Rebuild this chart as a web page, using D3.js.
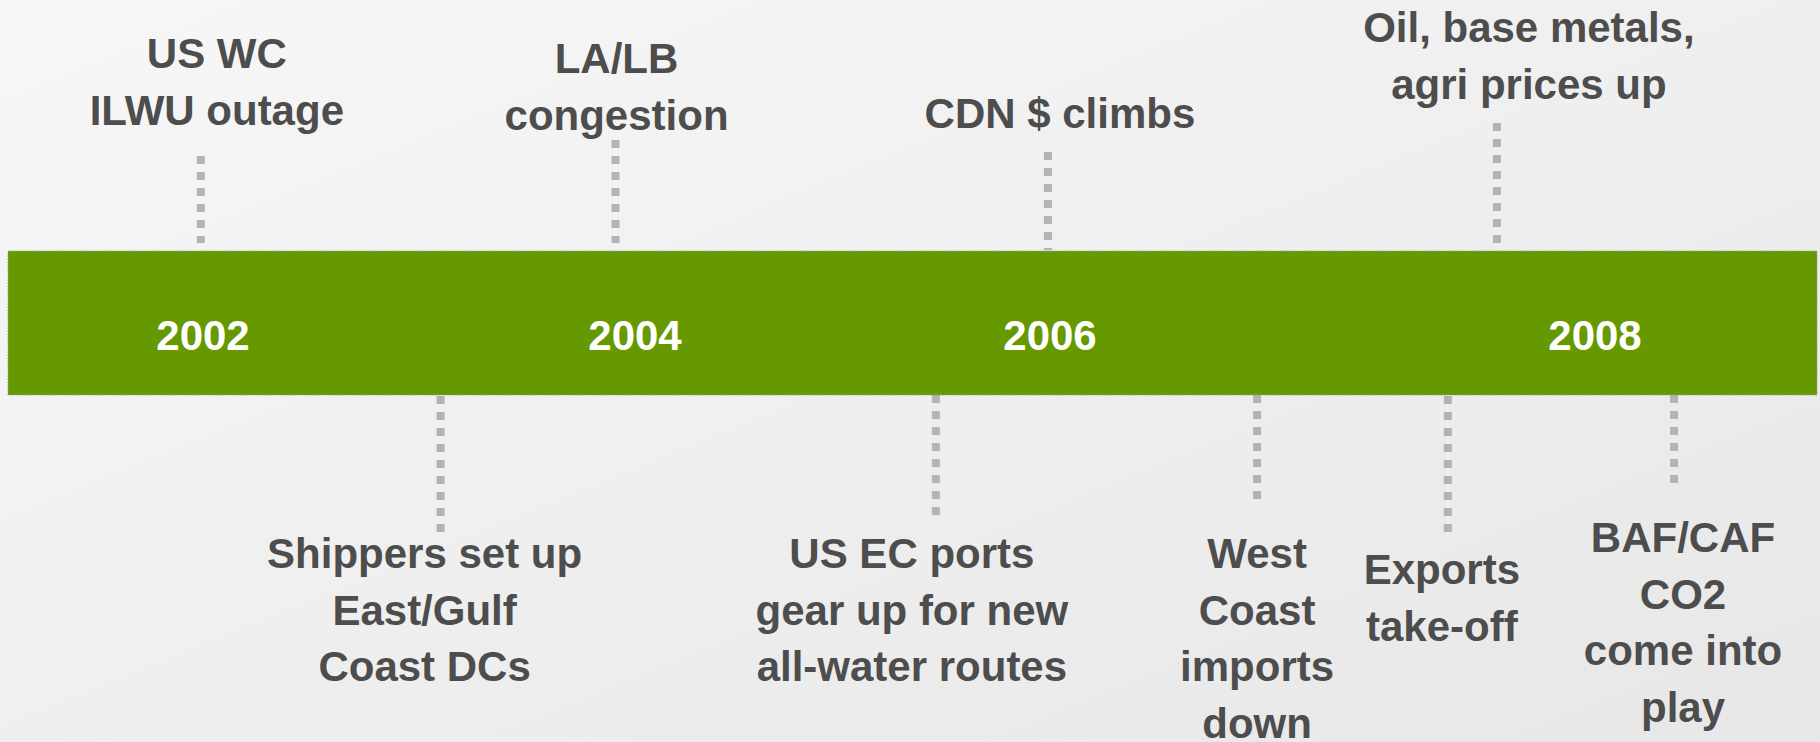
<!DOCTYPE html>
<html>
<head>
<meta charset="utf-8">
<script src="https://cdn.jsdelivr.net/npm/d3@7"></script>
<style>
  html, body { margin: 0; padding: 0; overflow: hidden; }
  svg { display: block; }
</style>
</head>
<body>
<svg id="chart" width="1820" height="742"></svg>
<script>
// timeline data
const years = [2002, 2004, 2006, 2008]

const eventText = [
  ['US WC', 'ILWU outage'],
  ['LA/LB', 'congestion'],
  ['CDN $ climbs'],
  ['Oil, base metals,', 'agri prices up'],
  ['Shippers set up', 'East/Gulf', 'Coast DCs'],
  ['US EC ports', 'gear up for new', 'all-water routes'],
  ['West', 'Coast', 'imports', 'down'],
  ['Exports', 'take-off'],
  ['BAF/CAF', 'CO2', 'come into', 'play']
]
// approximate point on the timeline for each event
const eventYear = [2001.99, 2003.91, 2005.99, 2007.64, 2003.10, 2005.45, 2006.76, 2007.46, 2008.29]
const eventSide = ['top', 'top', 'top', 'top', 'bottom', 'bottom', 'bottom', 'bottom', 'bottom']

// layout
const width = 1820
const height = 742
const bar = { x0: 8, x1: 1817, y0: 251, y1: 395 }
const lineHeight = 56.5

// label offset from its connector, first baseline, and connector far end
const labelLayout = [
  { dx: 16, base: 68, end: 156 },
  { dx: 1, base: 73, end: 140 },
  { dx: 12, base: 128, end: 152, near: 250 },
  { dx: 32, base: 42, end: 123 },
  { dx: -16, base: 568, end: 532 },
  { dx: -24, base: 568, end: 515 },
  { dx: 0, base: 568, end: 499 },
  { dx: -6, base: 584, end: 532 },
  { dx: 9, base: 552, end: 483 }
]

// the slide spaces the years unevenly, so use a piecewise scale
const x = d3.scaleLinear()
  .domain(years)
  .range([203, 635, 1050, 1595])

const svg = d3.select('#chart')

const defs = svg.append('defs')
const grad = defs.append('linearGradient')
  .attr('id', 'bg')
  .attr('x1', 0).attr('y1', 0)
  .attr('x2', 1).attr('y2', 1)
grad.append('stop').attr('offset', '0%').attr('stop-color', '#f7f7f7')
grad.append('stop').attr('offset', '100%').attr('stop-color', '#e7e7e7')

svg.append('rect')
  .attr('width', width)
  .attr('height', height)
  .attr('fill', 'url(#bg)')

const events = eventText.map((lines, i) => ({
  lines: lines,
  year: eventYear[i],
  side: eventSide[i],
  layout: labelLayout[i]
}))

// connectors
svg.append('g')
  .selectAll('line')
  .data(events)
  .enter()
  .append('line')
  .attr('class', 'connector')
  .attr('x1', d => x(d.year))
  .attr('x2', d => x(d.year))
  .attr('y1', d => d.layout.end)
  .attr('y2', d => d.side == 'top' ? (d.layout.near || bar.y0 - 8) : bar.y1)
  .attr('stroke', '#b3b3b3')
  .attr('stroke-width', 8)
  .attr('stroke-dasharray', d => d.side == 'top' ? '8,8' : '8,8')

// the green bar
svg.append('rect')
  .attr('x', bar.x0)
  .attr('y', bar.y0)
  .attr('width', bar.x1 - bar.x0)
  .attr('height', bar.y1 - bar.y0)
  .attr('fill', '#669900')
  .attr('stroke', '#9a9a9a')
  .attr('stroke-width', 1)
  .attr('stroke-dasharray', '1.5,1.5')

// year labels
svg.append('g')
  .selectAll('text')
  .data(years)
  .enter()
  .append('text')
  .attr('x', d => x(d))
  .attr('y', 350)
  .attr('text-anchor', 'middle')
  .style('font-family', '"Liberation Sans", Arial, sans-serif')
  .style('font-weight', 'bold')
  .style('font-size', '42px')
  .attr('fill', '#ffffff')
  .text(d => d)

// event labels
const labels = svg.append('g')
  .selectAll('text')
  .data(events)
  .enter()
  .append('text')
  .attr('class', 'eventLabel')
  .attr('text-anchor', 'middle')
  .style('font-family', '"Liberation Sans", Arial, sans-serif')
  .style('font-weight', 'bold')
  .style('font-size', '42px')
  .attr('fill', '#4d4d4d')

labels.selectAll('tspan')
  .data(d => d.lines.map((t, i) => ({ t: t, i: i, d: d })))
  .enter()
  .append('tspan')
  .attr('x', l => x(l.d.year) + l.d.layout.dx)
  .attr('y', l => l.d.layout.base + l.i * lineHeight)
  .text(l => l.t)
</script>
</body>
</html>
